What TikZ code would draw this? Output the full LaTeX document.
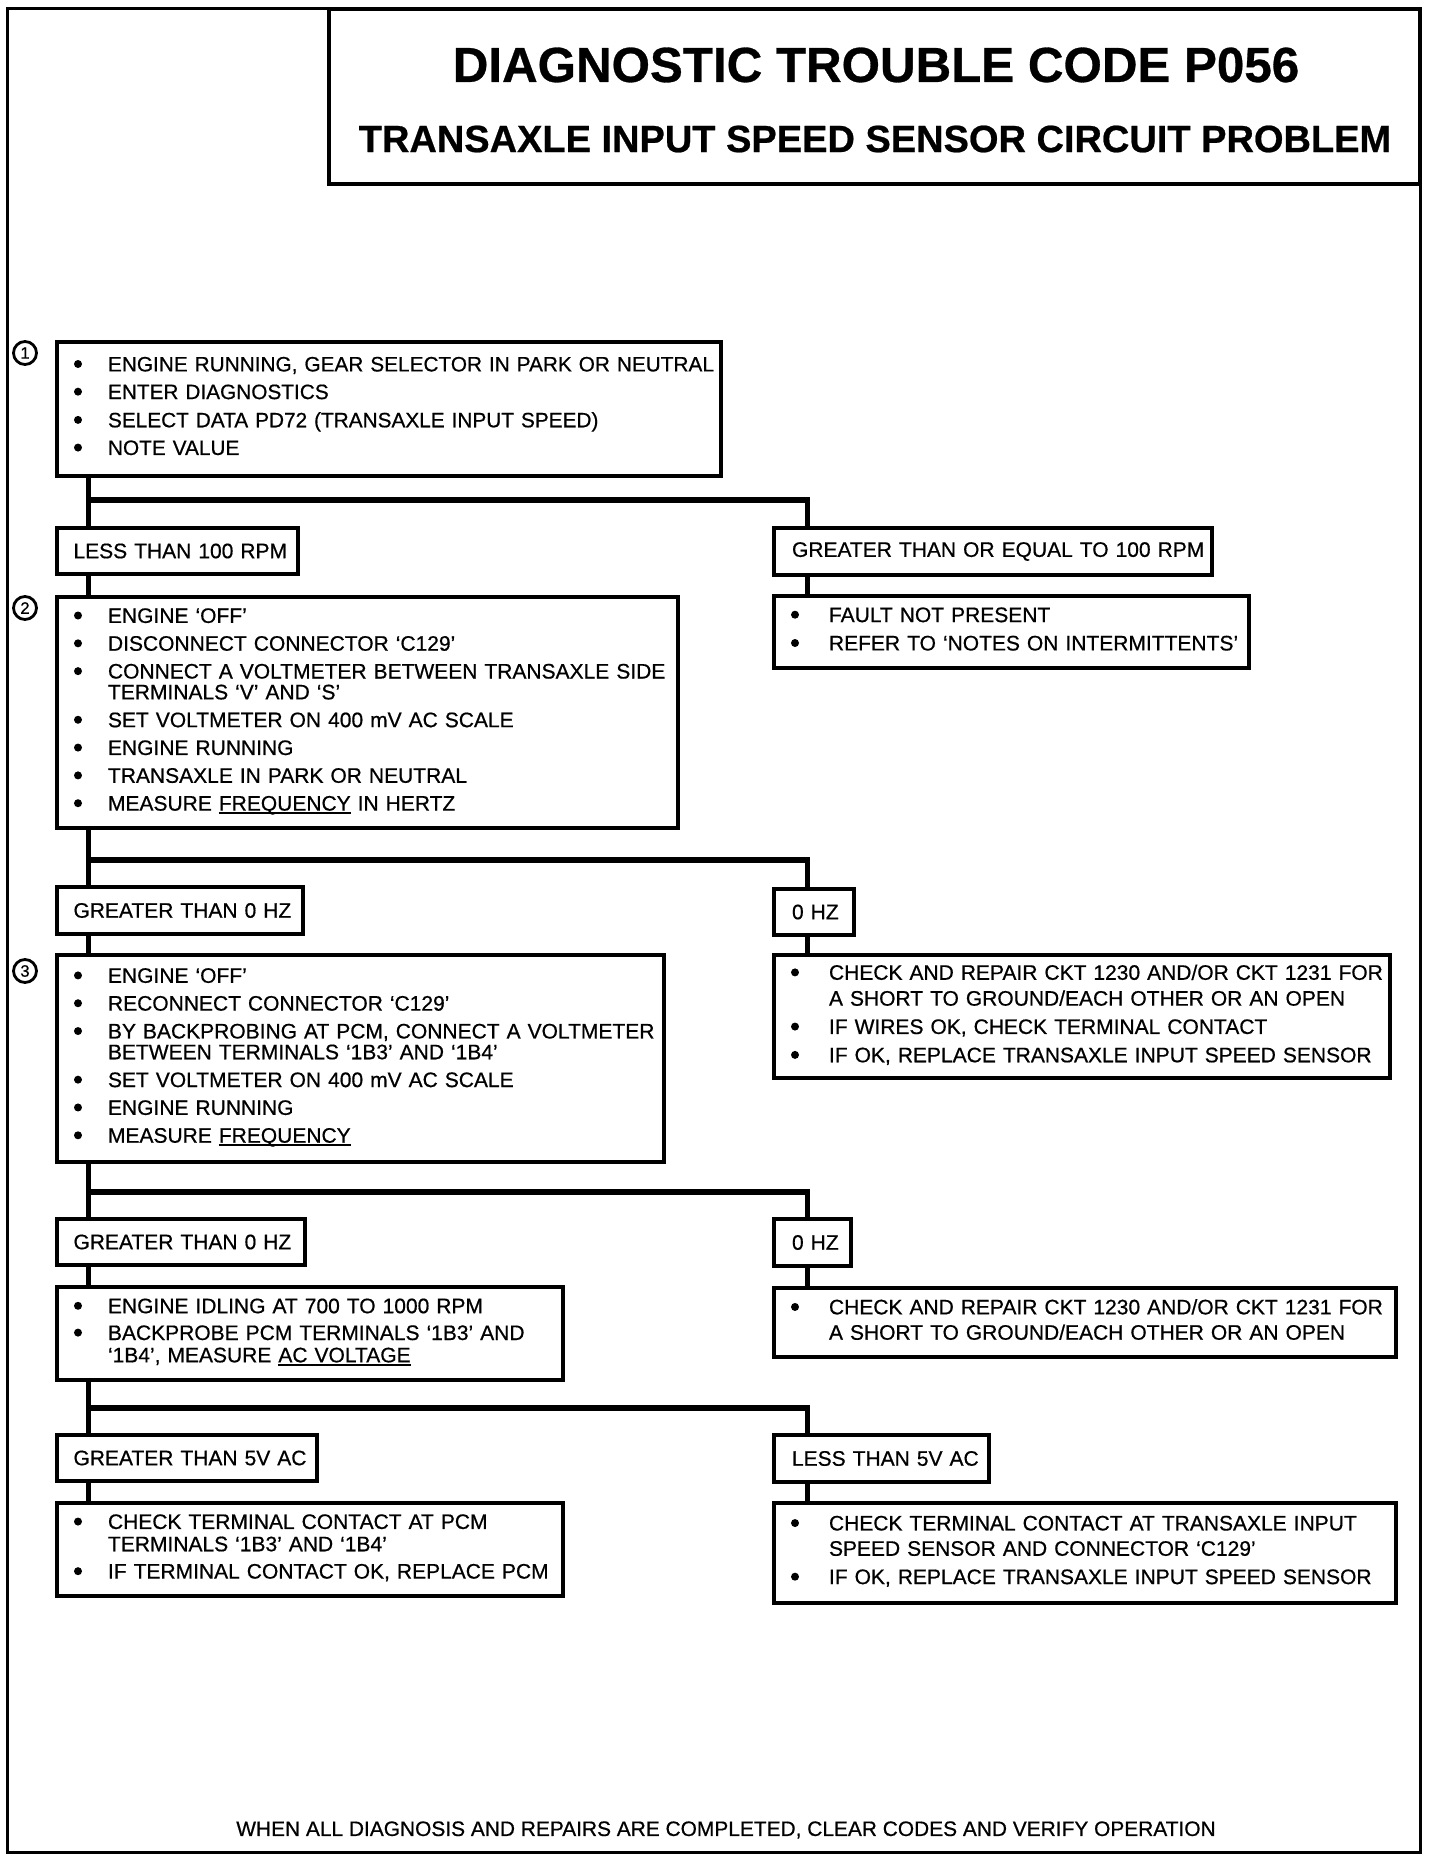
\documentclass[tikz,border=0pt]{standalone}
\usepackage{fontspec}
\setmainfont{Liberation Sans}[FakeBold=0.6]
\newcommand\dotb{\tikz[baseline=0pt]\fill[black] (4pt,7.4pt) circle[radius=4pt];}
\newcommand\bL{\makebox[34pt][l]{\dotb}}
\newcommand\bR{\makebox[38pt][l]{\dotb}}
\newcommand\ULine[1]{\setbox0\hbox{#1}\rlap{\rule[-3.5pt]{\wd0}{1.8pt}}\box0\relax}
\begin{document}
\begin{tikzpicture}[x=1pt,y=-1pt,
  frame/.style={line width=3pt},
  boxL/.style={draw, line width=3.6pt, rectangle, anchor=north west, outer sep=0pt,
    inner xsep=17pt, inner ysep=0pt, align=left, font=\fontsize{21pt}{20.5pt}\selectfont},
  boxR/.style={boxL},
  labL/.style={boxL, inner xsep=16.5pt},
  labR/.style={boxL, inner xsep=18pt},
  vconn/.style={line width=5pt},
  hconn/.style={line width=6pt},
  num/.style={circle, draw, line width=2.8pt, minimum size=23pt, inner sep=0pt,
    font=\fontsize{16.5pt}{16.5pt}\selectfont},
  ttl/.style={inner sep=0pt, font=\bfseries\fontsize{#1}{#1}\selectfont},
  ttl/.default=49pt]
\useasboundingbox (0,0) rectangle (1440,1862);
\fill[white] (0,0) rectangle (1440,1862);
\draw[frame] (7,9) rectangle (1420,1852);

% title
\node[draw, line width=3.6pt, anchor=north west, outer sep=0pt, inner sep=0pt,
  minimum width=1091pt, minimum height=175pt] (title) at (329,9) {};
\node[ttl=49.3pt] (t1) at (876,65) {DIAGNOSTIC TROUBLE CODE P056};
\node[ttl=38pt] (t2) at (875,139) {TRANSAXLE INPUT SPEED SENSOR CIRCUIT PROBLEM};

% step numbers
\node[num] (n1) at (25,353) {1};
\node[num] (n2) at (25,608) {2};
\node[num] (n3) at (25,971) {3};

% row 1
\node[boxL, text width=630pt, minimum height=134pt, font=\fontsize{20.8pt}{20.5pt}\selectfont] (b1) at (57,342) {%
\begin{tabular}{@{}l@{}l@{}}
\bL & ENGINE RUNNING, GEAR SELECTOR IN PARK OR NEUTRAL\\[7pt]
\bL & ENTER DIAGNOSTICS\\[7pt]
\bL & SELECT DATA PD72 (TRANSAXLE INPUT SPEED)\\[7pt]
\bL & NOTE VALUE
\end{tabular}};

\node[labL, text width=208pt, minimum height=46pt] (l1) at (57,528) {\mbox{LESS THAN 100 RPM}};
\node[labR, text width=402pt, minimum height=47pt] (r1) at (774,528) {\mbox{GREATER THAN OR EQUAL TO 100 RPM}};

% row 2
\node[boxL, text width=587pt, minimum height=231pt] (b2) at (57,597) {%
\begin{tabular}{@{}l@{}l@{}}
\bL & ENGINE ‘OFF’\\[7pt]
\bL & DISCONNECT CONNECTOR ‘C129’\\[7pt]
\bL & CONNECT A VOLTMETER BETWEEN TRANSAXLE SIDE\\
    & TERMINALS ‘V’ AND ‘S’\\[7pt]
\bL & SET VOLTMETER ON 400 mV AC SCALE\\[7pt]
\bL & ENGINE RUNNING\\[7pt]
\bL & TRANSAXLE IN PARK OR NEUTRAL\\[7pt]
\bL & MEASURE \ULine{FREQUENCY} IN HERTZ
\end{tabular}};

\node[boxR, text width=441pt, minimum height=72pt] (c2) at (774,596) {%
\begin{tabular}{@{}l@{}l@{}}
\bR & FAULT NOT PRESENT\\[7.5pt]
\bR & REFER TO ‘NOTES ON INTERMITTENTS’
\end{tabular}};

\node[labL, text width=213pt, minimum height=47pt] (l2) at (57,887) {\mbox{GREATER THAN 0 HZ}};
\node[labR, text width=44pt, minimum height=46pt] (r2) at (774,889) {\mbox{0 HZ}};

% row 3
\node[boxL, text width=573pt, minimum height=207pt] (b3) at (57,955) {%
\begin{tabular}{@{}l@{}l@{}}
\bL & ENGINE ‘OFF’\\[7pt]
\bL & RECONNECT CONNECTOR ‘C129’\\[7pt]
\bL & BY BACKPROBING AT PCM, CONNECT A VOLTMETER\\
    & BETWEEN TERMINALS ‘1B3’ AND ‘1B4’\\[7pt]
\bL & SET VOLTMETER ON 400 mV AC SCALE\\[7pt]
\bL & ENGINE RUNNING\\[7pt]
\bL & MEASURE \ULine{FREQUENCY}
\end{tabular}};

\node[boxR, text width=582pt, minimum height=123pt] (c3) at (774,955) {%
\begin{tabular}{@{}l@{}l@{}}
\bR & CHECK AND REPAIR CKT 1230 AND/OR CKT 1231 FOR\\[4.5pt]
    & A SHORT TO GROUND/EACH OTHER OR AN OPEN\\[7.5pt]
\bR & IF WIRES OK, CHECK TERMINAL CONTACT\\[7.5pt]
\bR & IF OK, REPLACE TRANSAXLE INPUT SPEED SENSOR
\end{tabular}};

\node[labL, text width=215pt, minimum height=46pt] (l3) at (57,1219) {\mbox{GREATER THAN 0 HZ}};
\node[labR, text width=41pt, minimum height=47pt] (r3) at (774,1219) {\mbox{0 HZ}};

% row 4
\node[boxL, text width=472pt, minimum height=93pt] (b4) at (57,1287) {%
\begin{tabular}{@{}l@{}l@{}}
\bL & ENGINE IDLING AT 700 TO 1000 RPM\\[6pt]
\bL & BACKPROBE PCM TERMINALS ‘1B3’ AND\\[1.5pt]
    & ‘1B4’, MEASURE \ULine{AC VOLTAGE}
\end{tabular}};

\node[boxR, text width=588pt, minimum height=69pt] (c4) at (774,1288) {%
\begin{tabular}{@{}l@{}l@{}}
\bR & CHECK AND REPAIR CKT 1230 AND/OR CKT 1231 FOR\\[4pt]
    & A SHORT TO GROUND/EACH OTHER OR AN OPEN
\end{tabular}};

\node[labL, text width=227pt, minimum height=46pt] (l4) at (57,1435) {\mbox{GREATER THAN 5V AC}};
\node[labR, text width=179pt, minimum height=47pt] (r4) at (774,1435) {\mbox{LESS THAN 5V AC}};

% row 5
\node[boxL, text width=472pt, minimum height=93pt] (b5) at (57,1503) {%
\begin{tabular}{@{}l@{}l@{}}
\bL & CHECK TERMINAL CONTACT AT PCM\\[1.5pt]
    & TERMINALS ‘1B3’ AND ‘1B4’\\[6.5pt]
\bL & IF TERMINAL CONTACT OK, REPLACE PCM
\end{tabular}};

\node[boxR, text width=588pt, minimum height=100pt] (c5) at (774,1503) {%
\begin{tabular}{@{}l@{}l@{}}
\bR & CHECK TERMINAL CONTACT AT TRANSAXLE INPUT\\[4.5pt]
    & SPEED SENSOR AND CONNECTOR ‘C129’\\[7.5pt]
\bR & IF OK, REPLACE TRANSAXLE INPUT SPEED SENSOR
\end{tabular}};

% footer
\node[inner sep=0pt, font=\fontsize{20.9pt}{21pt}\selectfont] (foot) at (726,1830)
  {WHEN ALL DIAGNOSIS AND REPAIRS ARE COMPLETED, CLEAR CODES AND VERIFY OPERATION};

% connectors
\coordinate (j1) at (88.5,500);  \coordinate (k1) at (807.5,500);
\coordinate (j2) at (88.5,860);  \coordinate (k2) at (807.5,860);
\coordinate (j3) at (88.5,1192); \coordinate (k3) at (807.5,1192);
\coordinate (j4) at (88.5,1408); \coordinate (k4) at (807.5,1408);

\draw[vconn] (b1.south -| j1) -- (l1.north -| j1);
\draw[hconn] (j1) -- ([xshift=2.5pt]k1);
\draw[vconn] ([yshift=3pt]k1) -- (r1.north -| k1);
\draw[vconn] (l1.south -| j1) -- (b2.north -| j1);
\draw[vconn] (r1.south -| k1) -- (c2.north -| k1);

\draw[vconn] (b2.south -| j2) -- (l2.north -| j2);
\draw[hconn] (j2) -- ([xshift=2.5pt]k2);
\draw[vconn] ([yshift=3pt]k2) -- (r2.north -| k2);
\draw[vconn] (l2.south -| j2) -- (b3.north -| j2);
\draw[vconn] (r2.south -| k2) -- (c3.north -| k2);

\draw[vconn] (b3.south -| j3) -- (l3.north -| j3);
\draw[hconn] (j3) -- ([xshift=2.5pt]k3);
\draw[vconn] ([yshift=3pt]k3) -- (r3.north -| k3);
\draw[vconn] (l3.south -| j3) -- (b4.north -| j3);
\draw[vconn] (r3.south -| k3) -- (c4.north -| k3);

\draw[vconn] (b4.south -| j4) -- (l4.north -| j4);
\draw[hconn] (j4) -- ([xshift=2.5pt]k4);
\draw[vconn] ([yshift=3pt]k4) -- (r4.north -| k4);
\draw[vconn] (l4.south -| j4) -- (b5.north -| j4);
\draw[vconn] (r4.south -| k4) -- (c5.north -| k4);
\end{tikzpicture}
\end{document}
